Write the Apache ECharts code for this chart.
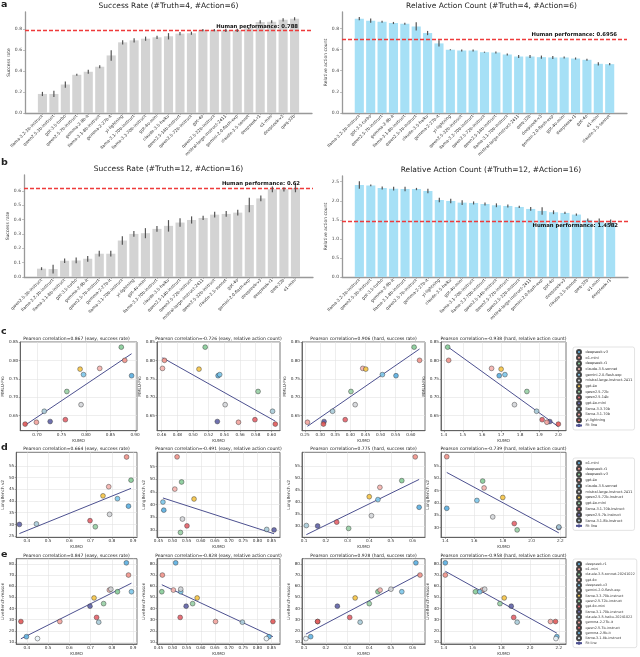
<!DOCTYPE html>
<html><head><meta charset="utf-8">
<script src="https://cdn.jsdelivr.net/npm/echarts@6/dist/echarts.min.js"></script>
<style>html,body{margin:0;padding:0;background:#fff}#c{width:640px;height:657px}</style>
</head><body><div id="c"></div>
<script>
// ---------------- DATA ----------------
const catsA1 = ["llama-3.2-3b-instruct","qwen2.5-3b-instruct","gpt-3.5-turbo","qwen2.5-7b-instruct","gemma-2-9b-it","llama-3.1-8b-instruct","gemma-2-27b-it","yi-lightning","llama-3.1-70b-instruct","llama-3.3-70b-instruct","gpt-4o-mini","claude-3.5-haiku","qwen2.5-14b-instruct","qwen2.5-72b-instruct","gpt-4o","qwen2.5-32b-instruct","mistral-large-instruct-2411","gemini-2.0-flash-exp","claude-3.5-sonnet","deepseek-r1","o1-mini","deepseek-v3","qwq-32b"];
const valsA1 = [0.182,0.182,0.272,0.365,0.394,0.442,0.55,0.675,0.694,0.71,0.723,0.733,0.758,0.762,0.792,0.792,0.79,0.79,0.81,0.87,0.872,0.89,0.90];
const errA1  = [0.02,0.03,0.03,0.01,0.02,0.015,0.05,0.02,0.02,0.02,0.015,0.03,0.015,0.015,0.01,0.01,0.015,0.015,0.01,0.015,0.015,0.015,0.015];
const humanA1 = 0.788;

const catsA2 = ["llama-3.2-3b-instruct","gpt-3.5-turbo","qwen2.5-7b-instruct","gemma-2-9b-it","llama-3.1-8b-instruct","qwen2.5-3b-instruct","claude-3.5-haiku","gemma-2-27b-it","yi-lightning","qwen2.5-32b-instruct","llama-3.3-70b-instruct","qwen2.5-72b-instruct","qwen2.5-14b-instruct","llama-3.1-70b-instruct","mistral-large-instruct-2411","qwq-32b","deepseek-v3","gemini-2.0-flash-exp","gpt-4o-mini","deepseek-r1","gpt-4o","o1-mini","claude-3.5-sonnet"];
const valsA2 = [0.892,0.873,0.863,0.851,0.844,0.819,0.756,0.658,0.598,0.591,0.591,0.575,0.572,0.553,0.534,0.534,0.528,0.525,0.525,0.515,0.503,0.465,0.462];
const errA2  = [0.015,0.02,0.01,0.01,0.01,0.04,0.02,0.03,0.005,0.01,0.01,0.005,0.01,0.01,0.015,0.015,0.015,0.015,0.01,0.01,0.01,0.015,0.01];
const humanA2 = 0.6956;

const catsB1 = ["qwen2.5-3b-instruct","llama-3.2-3b-instruct","llama-3.1-8b-instruct","gpt-3.5-turbo","gemma-2-9b-it","qwen2.5-7b-instruct","gemma-2-27b-it","llama-3.1-70b-instruct","yi-lightning","gpt-4o-mini","llama-3.3-70b-instruct","claude-3.5-haiku","qwen2.5-14b-instruct","qwen2.5-72b-instruct","mistral-large-instruct-2411","qwen2.5-32b-instruct","claude-3.5-sonnet","gpt-4o","gemini-2.0-flash-exp","deepseek-v3","deepseek-r1","qwq-32b","o1-mini"];
const valsB1 = [0.058,0.055,0.113,0.115,0.127,0.162,0.162,0.254,0.300,0.305,0.335,0.356,0.379,0.397,0.411,0.434,0.439,0.448,0.501,0.547,0.61,0.61,0.62];
const errB1  = [0.01,0.03,0.015,0.02,0.02,0.02,0.02,0.03,0.02,0.035,0.02,0.04,0.03,0.025,0.015,0.02,0.02,0.02,0.05,0.02,0.02,0.015,0.03];
const humanB1 = 0.62;

const catsB2 = ["llama-3.2-3b-instruct","qwen2.5-3b-instruct","gpt-3.5-turbo","gemma-2-9b-it","llama-3.1-8b-instruct","qwen2.5-7b-instruct","gemma-2-27b-it","yi-lightning","claude-3.5-haiku","gpt-4o-mini","llama-3.1-70b-instruct","llama-3.3-70b-instruct","qwen2.5-14b-instruct","qwen2.5-72b-instruct","qwen2.5-32b-instruct","mistral-large-instruct-2411","gemini-2.0-flash-exp","gpt-4o","deepseek-v3","claude-3.5-sonnet","qwq-32b","o1-mini","deepseek-r1"];
const valsB2 = [2.413,2.404,2.334,2.317,2.308,2.308,2.256,2.02,1.995,1.951,1.943,1.916,1.882,1.864,1.838,1.786,1.733,1.699,1.681,1.638,1.498,1.455,1.429];
const errB2  = [0.1,0.02,0.04,0.05,0.06,0.03,0.06,0.06,0.06,0.06,0.04,0.04,0.05,0.04,0.03,0.05,0.1,0.05,0.03,0.03,0.04,0.08,0.08];
const humanB2 = 1.4582;

const barTicksA = [0,0.2,0.4,0.6,0.8];
const barTicksB1 = [0,0.1,0.2,0.3,0.4,0.5,0.6];
const barTicksB2 = [0,0.5,1.0,1.5,2.0,2.5];

// row c : KUMO vs MMLU-Pro
const modelsC = ["deepseek-v3","o1-mini","deepseek-r1","claude-3.5-sonnet","gemini-2.0-flash-exp","mistral-large-instruct-2411","gpt-4o","qwen2.5-72b","qwen2.5-14b","gpt-4o-mini","llama-3.3-70b","llama-3.1-70b","yi-lightning"];
const mmluPro = [0.759,0.801,0.837,0.779,0.762,0.680,0.777,0.716,0.639,0.634,0.662,0.632,0.627];
const cEasySR = [0.893,0.879,0.872,0.828,0.795,0.790,0.788,0.761,0.758,0.727,0.715,0.699,0.676];
const cEasyRA = [0.532,0.4635,0.5155,0.461,0.534,0.541,0.5076,0.583,0.579,0.531,0.6015,0.558,0.605];
const cHardSR = [0.551,0.629,0.611,0.441,0.506,0.416,0.451,0.402,0.383,0.313,0.341,0.258,0.311];
const cHardRA = [1.69,1.425,1.42,1.65,1.72,1.77,1.70,1.835,1.915,1.955,1.886,1.94,2.0];
const fitC1 = [[0.676,0.624],[0.893,0.819]];
const fitC2 = [[0.461,0.808],[0.605,0.635]];
const fitC3 = [[0.258,0.621],[0.629,0.832]];
const fitC4 = [[1.42,0.838],[2.0,0.62]];
const corrC = ["0.867","-0.726","0.906","-0.938"];

// row d : KUMO vs LongBench v2
const modelsD = ["o1-mini","deepseek-r1","deepseek-v3","gpt-4o","claude-3.5-sonnet","mistral-large-instruct-2411","qwen2.5-72b-instruct","gpt-4o-mini","llama-3.1-70b-instruct","qwen2.5-7b-instruct","llama-3.1-8b-instruct"];
const longBench = [37.8,58.8,48.9,46.1,41.0,34.3,42.2,29.0,31.6,30.0,30.2];
const dEasySR = [0.878,0.869,0.89,0.785,0.826,0.789,0.758,0.722,0.697,0.365,0.445];
const dEasyRA = [0.469,0.516,0.532,0.508,0.466,0.535,0.576,0.528,0.551,0.859,0.833];
const dHardSR = [0.63,0.612,0.55,0.449,0.44,0.41,0.40,0.305,0.25,0.162,0.11];
const dHardRA = [1.41,1.41,1.66,1.67,1.62,1.73,1.80,1.90,1.88,2.19,2.19];
const fitD1 = [[0.365,26.1],[0.89,45.4]];
const fitD2 = [[0.466,42.6],[0.859,28.5]];
const fitD3 = [[0.11,26.4],[0.63,49.4]];
const fitD4 = [[1.41,52.4],[2.19,27.8]];
const corrD = ["0.664","-0.491","0.775","-0.739"];

// row e : KUMO vs LiveBench-reason
const modelsE = ["deepseek-r1","o1-mini","claude-3-5-sonnet-20241022","gpt-4o","deepseek-v3","gemini-2.0-flash-exp","llama-3.3-70b-instruct","qwen2.5-72b-instruct","gpt-4o-mini","llama-3.1-70b-instruct","claude-3-5-haiku-20241022","gemma-2-27b-it","qwen2.5-7b-instruct","gemma-2-9b-it","llama-3.1-8b-instruct"];
const liveBench = [81.1,70.1,55.1,56.6,55.1,57.4,49.5,44.4,32.0,42.1,27.7,28.3,28.3,14.7,13.0];
const eEasySR = [0.868,0.878,0.826,0.788,0.892,0.795,0.716,0.761,0.728,0.697,0.738,0.555,0.372,0.398,0.45];
const eEasyRA = [0.511,0.464,0.462,0.503,0.529,0.529,0.587,0.571,0.527,0.548,0.747,0.652,0.855,0.841,0.832];
const eHardSR = [0.615,0.634,0.44,0.45,0.55,0.50,0.335,0.40,0.31,0.253,0.358,0.162,0.162,0.13,0.108];
const eHardRA = [1.41,1.41,1.62,1.668,1.65,1.684,1.82,1.79,1.886,1.869,1.91,2.142,2.177,2.186,2.18];
const fitE1 = [[0.372,12.8],[0.892,62.8]];
const fitE2 = [[0.462,61.4],[0.855,14.7]];
const fitE3 = [[0.108,17.0],[0.634,71.2]];
const fitE4 = [[1.41,73.5],[2.186,17.9]];
const corrE = ["0.847","-0.828","0.928","-0.958"];

// tick labels
const ticksC1 = [0.70,0.75,0.80,0.85,0.90];
const ticksC2 = [0.46,0.48,0.50,0.52,0.54,0.56,0.58,0.60];
const ticksC3 = [0.25,0.30,0.35,0.40,0.45,0.50,0.55,0.60];
const ticksC4 = [1.4,1.5,1.6,1.7,1.8,1.9,2.0];
const ticksX1 = [0.4,0.5,0.6,0.7,0.8,0.9];
const ticksX2 = [0.45,0.50,0.55,0.60,0.65,0.70,0.75,0.80,0.85];
const ticksX3 = [0.1,0.2,0.3,0.4,0.5,0.6];
const ticksX4 = [1.4,1.6,1.8,2.0,2.2];
const ticksYC = [0.65,0.70,0.75,0.80,0.85];
const ticksYD = [25,30,35,40,45,50,55];
const ticksYE = [10,20,30,40,50,60,70,80];

const palette = ["#5aaee0","#f0928a","#86cc98","#f5b3ae","#7cc6ea","#d4d6d9","#f6c445","#97cfa4","#e4626a","#5f62a6","#a9cbd8","#f2a29c","#e05858","#62b2e2","#eaf4fa"];

// ---------------- BUILD ----------------
const F = 'DejaVu Sans';
const grids = [], xAxes = [], yAxes = [], series = [], graphics = [], legends = [];

function addText(text, x, y, size, weight, align) {
  graphics.push({type:'text', x:x, y:y, silent:true,
    style:{text:text, fontSize:size, fontWeight:weight||'normal', fontFamily:F, fill:'#222',
      align:align||'center', verticalAlign:'middle'}});
}

function addBar(p) {
  const gi = grids.length;
  grids.push({left:p.box[0], top:p.box[1], width:p.box[2], height:p.box[3]});
  const n = p.cats.length;
  const idx = p.cats.map((_, i) => i);
  xAxes.push({gridIndex:gi, type:'value', min:-1.52, max:n - 1 + 1.52,
    axisLine:{show:true, onZero:false, lineStyle:{color:'#999', width:1.3}},
    axisTick:{show:true, customValues:idx, length:2, lineStyle:{color:'#999', width:0.6}},
    axisLabel:{customValues:idx, formatter:v => p.cats[Math.round(v)] || '', rotate:45,
      fontSize:4.2, color:'#333', margin:2.5, fontFamily:F},
    splitLine:{show:false}});
  yAxes.push({gridIndex:gi, type:'value', min:0, max:p.ymax,
    axisLine:{show:true, onZero:false, lineStyle:{color:'#999', width:1.3}},
    axisTick:{show:true, customValues:p.yticks, length:2, lineStyle:{color:'#999', width:0.6}},
    axisLabel:{customValues:p.yticks, formatter:v => v.toFixed(1), fontSize:4.5, color:'#444', margin:3, fontFamily:F},
    splitLine:{show:false},
    name:p.yname, nameLocation:'middle', nameGap:p.nameGap, nameTextStyle:{fontSize:4.5, color:'#444', fontFamily:F}});
  series.push({type:'bar', xAxisIndex:gi, yAxisIndex:gi, barWidth:9.1,
    data:p.vals.map((v, i) => [i, v]), itemStyle:{color:p.color}, z:2,
    markLine:{silent:true, symbol:'none', animation:false, data:[{yAxis:p.human}],
      lineStyle:{color:'#ee3b3b', type:[4, 2], width:1.3},
      label:{show:true, formatter:() => 'Human performance: ' + p.human, position:p.lpos, distance:p.ldist,
        fontSize:5.3, fontWeight:'bold', color:'#111', fontFamily:F}}});
  series.push({type:'custom', xAxisIndex:gi, yAxisIndex:gi, z:5,
    data:p.vals.map((v, i) => [i, v - p.errs[i], v + p.errs[i]]),
    encode:{x:0, y:[1, 2]},
    renderItem:(params, api) => {
      const a = api.coord([api.value(0), api.value(1)]);
      const b = api.coord([api.value(0), api.value(2)]);
      return {type:'line', shape:{x1:a[0], y1:a[1], x2:b[0], y2:b[1]}, style:{stroke:'#555', lineWidth:1.2}};
    }});
  addText(p.title, p.box[0] + p.box[2] / 2 + p.tdx, p.box[1] - 6, 7.5, 'normal');
}

function addScatter(s) {
  const gi = grids.length;
  grids.push({left:s.box[0], top:s.box[1], width:s.box[2], height:s.box[3], show:true,
    borderColor:'#555', borderWidth:0.8, backgroundColor:'rgba(0,0,0,0)'});
  const fx = s.xticks.filter(t => t >= s.xr[0] && t <= s.xr[1]);
  const fy = s.yticks.filter(t => t >= s.yr[0] && t <= s.yr[1]);
  xAxes.push({gridIndex:gi, type:'value', min:s.xr[0], max:s.xr[1],
    axisLine:{show:true, onZero:false, lineStyle:{color:'#555', width:0.8}},
    axisTick:{show:true, customValues:fx, length:1.5, lineStyle:{color:'#555', width:0.5}},
    axisLabel:{customValues:fx, formatter:v => v.toFixed(s.xd), fontSize:4.2, color:'#333', margin:2, fontFamily:F},
    splitLine:{show:true, lineStyle:{color:'#e3e3e3', width:0.6}},
    name:'KUMO', nameLocation:'middle', nameGap:8, nameTextStyle:{fontSize:4.2, color:'#333', fontFamily:F}});
  yAxes.push({gridIndex:gi, type:'value', min:s.yr[0], max:s.yr[1],
    axisLine:{show:true, onZero:false, lineStyle:{color:'#555', width:0.8}},
    axisTick:{show:true, customValues:fy, length:1.5, lineStyle:{color:'#555', width:0.5}},
    axisLabel:{customValues:fy, formatter:v => v.toFixed(s.yd), fontSize:4.2, color:'#333', margin:2, fontFamily:F},
    splitLine:{show:true, lineStyle:{color:'#e3e3e3', width:0.6}},
    name:s.yname, nameLocation:'middle', nameGap:s.yGap, nameTextStyle:{fontSize:4.2, color:'#333', fontFamily:F}});
  s.models.forEach((m, k) => {
    series.push({type:'scatter', name:s.key + '|' + m, xAxisIndex:gi, yAxisIndex:gi, z:4,
      data:[[s.xs[k], s.ys[k]]], symbol:'circle', symbolSize:4.8,
      itemStyle:{color:palette[k], opacity:0.9, borderColor:'#333', borderWidth:0.5}});
  });
  series.push({type:'line', name:s.key + '|Fit line', xAxisIndex:gi, yAxisIndex:gi, z:3,
    data:s.fit, symbol:'none', showSymbol:false, lineStyle:{color:'#4d5190', width:1},
    itemStyle:{color:'#4d5190'}});
  addText('Pearson correlation=' + s.corr + ' (' + s.sub + ')', s.box[0] + s.box[2] / 2, s.box[1] - 3, 4.5, 'normal');
}

function addLegend(key, models, top, gap, fs) {
  legends.push({orient:'vertical', left:573, top:top, height:96, itemWidth:6, itemHeight:4, itemGap:gap,
    padding:[2, 2, 2, 2], borderColor:'#d0d0d0', borderWidth:0.6, borderRadius:2,
    selectedMode:false, formatter:n => n.split('|')[1],
    textStyle:{fontSize:fs, color:'#333', fontFamily:F, lineHeight:5, padding:[0, 0, 0, -1.5]},
    data:models.map(m => key + '|' + m).concat([key + '|Fit line'])});
}

// bars
addBar({cats:catsA1, vals:valsA1, errs:errA1, human:humanA1, title:'Success Rate (#Truth=4, #Action=6)',
  yname:'Success rate', color:'#d3d3d3', box:[25, 12, 287, 101], ymax:0.965, yticks:barTicksA,
  lpos:'insideEndTop', ldist:[14, 1.5], nameGap:12, tdx:0});
addBar({cats:catsA2, vals:valsA2, errs:errA2, human:humanA2, title:'Relative Action Count (#Truth=4, #Action=6)',
  yname:'Relative action count', color:'#a6e0f6', box:[342, 12, 285, 101], ymax:0.955, yticks:barTicksA,
  lpos:'insideEndTop', ldist:[10, 1.5], nameGap:13, tdx:7});
addBar({cats:catsB1, vals:valsB1, errs:errB1, human:humanB1, title:'Success Rate (#Truth=12, #Action=16)',
  yname:'Success rate', color:'#d3d3d3', box:[24, 175, 289, 102], ymax:0.71, yticks:barTicksB1,
  lpos:'insideEndTop', ldist:[13, 1.5], nameGap:12, tdx:0});
addBar({cats:catsB2, vals:valsB2, errs:errB2, human:humanB2, title:'Relative Action Count (#Truth=12, #Action=16)',
  yname:'Relative action count', color:'#a6e0f6', box:[342, 176, 286, 101], ymax:2.65, yticks:barTicksB2,
  lpos:'insideEndBottom', ldist:[10, 1.5], nameGap:13, tdx:6});

// scatter layout
const cols = [[16, 121], [157, 123], [302, 123], [441, 125]];
const subs = ['easy, success rate', 'easy, relative action count', 'hard, success rate', 'hard, relative action count'];
const rowC = {top:342, h:88.7}, rowD = {top:452.3, h:85}, rowE = {top:558.7, h:89.6};

const cX = [cEasySR, cEasyRA, cHardSR, cHardRA], cFit = [fitC1, fitC2, fitC3, fitC4];
const cXr = [[0.666, 0.904], [0.454, 0.611], [0.24, 0.647], [1.385, 2.04]];
const cXt = [ticksC1, ticksC2, ticksC3, ticksC4], cXd = [2, 2, 2, 1];
const dX = [dEasySR, dEasyRA, dHardSR, dHardRA], dFit = [fitD1, fitD2, fitD3, fitD4];
const eX = [eEasySR, eEasyRA, eHardSR, eHardRA], eFit = [fitE1, fitE2, fitE3, fitE4];
const deXr = [[0.35, 0.918], [0.445, 0.88], [0.09, 0.657], [1.37, 2.24]];
const eXr = [[0.35, 0.918], [0.445, 0.88], [0.09, 0.657], [1.38, 2.25]];
const deXt = [ticksX1, ticksX2, ticksX3, ticksX4], deXd = [1, 2, 1, 1];
const dYr = [[24.5, 60.8], [27.1, 60.6], [25.3, 60.7], [26.0, 60.6]];

for (let i = 0; i < 4; i++) {
  addScatter({key:'c', models:modelsC, xs:cX[i], ys:mmluPro, fit:cFit[i], corr:corrC[i], sub:subs[i],
    box:[cols[i][0], rowC.top, cols[i][1], rowC.h], xr:cXr[i], yr:[0.609, 0.851], xticks:cXt[i], yticks:ticksYC,
    xd:cXd[i], yd:2, yname:'MMLU-Pro', yGap:3.5});
}
for (let i = 0; i < 4; i++) {
  addScatter({key:'d', models:modelsD, xs:dX[i], ys:longBench, fit:dFit[i], corr:corrD[i], sub:subs[i],
    box:[cols[i][0], rowD.top, cols[i][1], rowD.h], xr:deXr[i], yr:dYr[i], xticks:deXt[i], yticks:ticksYD,
    xd:deXd[i], yd:0, yname:'LongBench v2', yGap:6});
}
for (let i = 0; i < 4; i++) {
  addScatter({key:'e', models:modelsE, xs:eX[i], ys:liveBench, fit:eFit[i], corr:corrE[i], sub:subs[i],
    box:[cols[i][0], rowE.top, cols[i][1], rowE.h], xr:eXr[i], yr:[8.1, 84.8], xticks:deXt[i], yticks:ticksYE,
    xd:deXd[i], yd:0, yname:'LiveBench-reason', yGap:6});
}

addLegend('c', modelsC, 347, -0.31, 3.5);
addLegend('d', modelsD, 458, -0.24, 3.5);
addLegend('e', modelsE, 559, -0.69, 3.4);

// panel letters
[['a', 4.5], ['b', 163], ['c', 331.5], ['d', 448], ['e', 555]].forEach(t => addText(t[0], 1, t[1], 9.5, 'bold', 'left'));

const chart = echarts.init(document.getElementById('c'), null, {renderer:'canvas', width:640, height:657});
chart.setOption({
  animation:false, backgroundColor:'#ffffff', textStyle:{fontFamily:F},
  grid:grids, xAxis:xAxes, yAxis:yAxes, series:series, legend:legends, graphic:graphics
});
</script></body></html>
